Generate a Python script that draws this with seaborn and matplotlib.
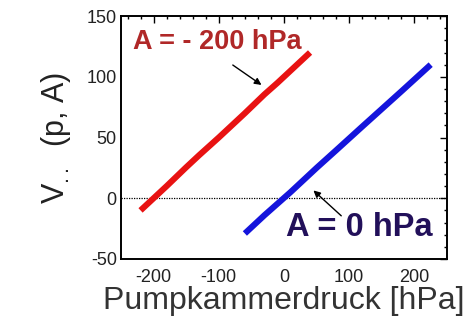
import matplotlib
matplotlib.use("Agg")
import matplotlib.pyplot as plt
from matplotlib.ticker import MultipleLocator
import seaborn as sns
import pandas as pd

# Data
red_p = [-220, -180, -150, -130, -100, -60, -30, -10, 20, 40]
red_v = [-10, 10, 25.5, 35.5, 50, 70, 85.5, 95, 110, 120]
blue_p = [-60, -30, -10, 10, 50, 80, 120, 150, 180, 225]
blue_v = [-29, -14, -4.5, 5, 25, 39.5, 59, 73.5, 88, 110]

red_label = "A = - 200 hPa"
blue_label = "A = 0 hPa"
x_label = "Pumpkammerdruck [hPa]"
y_label = r"V$_{..}$  (p, A)"
x_ticks = [-200, -100, 0, 100, 200]
y_ticks = [-50, 0, 50, 100, 150]

sns.set_style("white")
plt.rcParams["font.family"] = ["Liberation Sans", "DejaVu Sans"]
plt.rcParams["mathtext.fontset"] = "custom"
plt.rcParams["mathtext.rm"] = "Liberation Sans"
plt.rcParams["mathtext.it"] = "Liberation Sans"
plt.rcParams["axes.unicode_minus"] = False

df = pd.concat([
    pd.DataFrame({"p": red_p, "v": red_v, "s": "red"}),
    pd.DataFrame({"p": blue_p, "v": blue_v, "s": "blue"}),
])

fig = plt.figure(figsize=(4.75, 3.28), dpi=100)
ax = fig.add_axes([0.2547, 0.2104, 0.941 - 0.2547, 0.951 - 0.2104])

ax.axhline(0, color="black", lw=0.9, ls=(0, (1, 1)), zorder=1)
sns.lineplot(data=df, x="p", y="v", hue="s", palette={"red": "#e81212", "blue": "#1414dc"},
             lw=4.4, ax=ax, legend=False, sort=False, zorder=3, solid_capstyle="butt")

ax.set_xlim(-250, 250)
ax.set_ylim(-50, 150)
ax.set_xticks(x_ticks)
ax.set_yticks(y_ticks)
ax.xaxis.set_minor_locator(MultipleLocator(20))
ax.yaxis.set_minor_locator(MultipleLocator(10))
ax.tick_params(which="both", direction="in", top=True, right=True, color="black")
ax.tick_params(which="major", length=5, width=1.0)
ax.tick_params(which="minor", length=2.5, width=1.0)
ax.tick_params(axis="x", which="major", labelsize=13, pad=7, labelcolor="#222222")
ax.tick_params(axis="y", which="major", labelsize=13, pad=3, labelcolor="#222222")
for s in ax.spines.values():
    s.set_color("black")
    s.set_linewidth(1.4)

ax.set_xlabel(x_label, fontsize=23, color="#333333", labelpad=0)
ax.set_ylabel(y_label, fontsize=22, color="#222222", labelpad=10)

ax.text(-232, 129, red_label, color="#b02828", fontsize=19.5, fontweight="bold",
        ha="left", va="center", zorder=4)
ax.text(3, -24, blue_label, color="#22105a", fontsize=23.5, fontweight="bold",
        ha="left", va="center", zorder=4)

ax.annotate("", xy=(-31, 92), xytext=(-82, 111),
            arrowprops=dict(arrowstyle="-|>", color="black", lw=1.0, mutation_scale=10))
ax.annotate("", xy=(42, 8), xytext=(91, -16),
            arrowprops=dict(arrowstyle="-|>", color="black", lw=1.0, mutation_scale=10))

fig.savefig("out.png", dpi=100, facecolor="white")
